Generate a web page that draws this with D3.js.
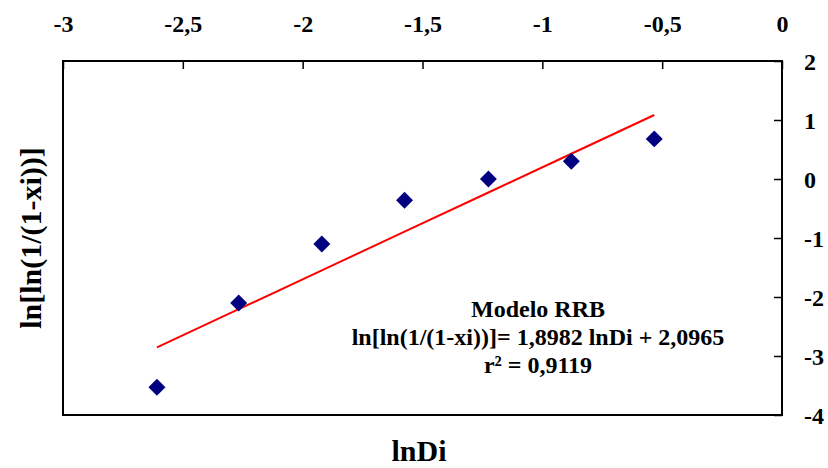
<!DOCTYPE html>
<html>
<head>
    <meta charset="utf-8">
    <script src="https://d3js.org/d3.v7.min.js"></script>
    <style>
        html, body { margin: 0; padding: 0; background: #fff; }
        svg text { font-family: "Liberation Serif", "Times New Roman", serif; font-weight: bold; fill: #000; }
    </style>
</head>
<body>
    <svg id="chart" width="828" height="468"></svg>
    <script>
        // Datos
        const lnDi = [-2.608, -2.267, -1.920, -1.575, -1.225, -0.879, -0.533];
        const lnln = [-3.53, -2.10, -1.10, -0.36, 0.00, 0.30, 0.68];
        // Valores de la recta de ajuste en cada punto
        const ajuste = [-2.854, -2.207, -1.548, -0.893, -0.229, 0.428, 1.085];
        const xTicks = [-3, -2.5, -2, -1.5, -1, -0.5, 0];
        const yTicks = [2, 1, 0, -1, -2, -3, -4];
        const anotacion = ["Modelo RRB", "ln[ln(1/(1-xi))]= 1,8982 lnDi + 2,0965", "r² = 0,9119"];

        const svg = d3.select("#chart");
        const plotLeft = 63, plotRight = 782, plotTop = 61, plotBottom = 415;

        const x = d3.scaleLinear().domain([-3, 0]).range([plotLeft, plotRight]);
        const y = d3.scaleLinear().domain([-4, 2]).range([plotBottom, plotTop]);
        const fmt = d => String(d).replace(".", ",");

        // Marco del área de trazado
        svg.append("rect")
            .attr("x", plotLeft).attr("y", plotTop)
            .attr("width", plotRight - plotLeft).attr("height", plotBottom - plotTop)
            .attr("fill", "none").attr("stroke", "#000").attr("stroke-width", 2);

        // Eje X arriba, marcas hacia dentro
        const xAxis = svg.append("g")
            .attr("transform", `translate(0,${plotTop})`)
            .call(d3.axisTop(x).tickValues(xTicks).tickFormat(fmt).tickSizeInner(-8).tickSizeOuter(0).tickPadding(0));
        xAxis.select(".domain").remove();
        xAxis.selectAll("line").attr("stroke", "#000").attr("stroke-width", 1.5);
        xAxis.selectAll("text")
            .attr("y", -29).attr("dy", 0)
            .style("font-size", "24px");

        // Eje Y a la derecha, marcas hacia dentro
        const yAxis = svg.append("g")
            .attr("transform", `translate(${plotRight},0)`)
            .call(d3.axisRight(y).tickValues(yTicks).tickFormat(fmt).tickSizeInner(-8).tickSizeOuter(0).tickPadding(0));
        yAxis.select(".domain").remove();
        yAxis.selectAll("line").attr("stroke", "#000").attr("stroke-width", 1.5);
        yAxis.selectAll("text")
            .attr("x", 22).attr("dy", "0.35em")
            .attr("text-anchor", "start")
            .style("font-size", "24px");

        // Recta de ajuste
        const linea = d3.line()
            .x((d, i) => x(lnDi[i]))
            .y(d => y(d));
        svg.append("path")
            .datum(ajuste)
            .attr("d", linea)
            .attr("fill", "none")
            .attr("stroke", "#ff0000")
            .attr("stroke-width", 2);

        // Puntos (rombos)
        svg.append("g")
            .selectAll("path")
            .data(lnDi)
            .enter().append("path")
            .attr("d", d3.symbol().type(d3.symbolSquare).size(144))
            .attr("transform", (d, i) => `translate(${x(d)},${y(lnln[i])}) rotate(45)`)
            .attr("fill", "#000080");

        // Anotación
        svg.append("g")
            .selectAll("text")
            .data(anotacion)
            .enter().append("text")
            .attr("x", 538)
            .attr("y", (d, i) => 317 + i * 28)
            .attr("text-anchor", "middle")
            .style("font-size", "24px")
            .text(d => d);

        // Títulos de ejes
        svg.append("text")
            .attr("x", 419).attr("y", 461)
            .attr("text-anchor", "middle")
            .style("font-size", "30px")
            .text("lnDi");

        svg.append("text")
            .attr("transform", "translate(41,238) rotate(-90)")
            .attr("text-anchor", "middle")
            .style("font-size", "30px")
            .text("ln[ln(1/(1-xi))]");
    </script>
</body>
</html>
